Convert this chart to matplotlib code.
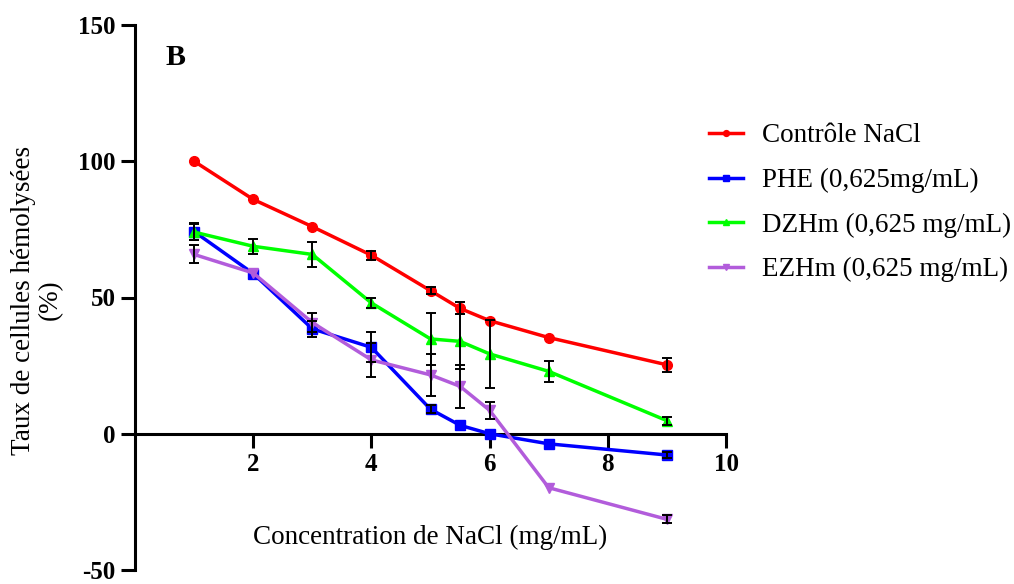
import numpy as np
import matplotlib
matplotlib.use("Agg")
import matplotlib.pyplot as plt

plt.rcParams['font.family'] = ['Liberation Serif', 'DejaVu Serif']
plt.rcParams['axes.unicode_minus'] = False

x = np.array([1, 2, 3, 4, 5, 5.5, 6, 7, 9])

ctrl = np.array([100, 86, 76, 65.5, 52.5, 46, 41.5, 35.3, 25.3])
ctrl_err = np.array([0, 0, 0, 1.7, 1.3, 2.2, 0, 0, 2.5])

phe = np.array([74.2, 58.8, 38.5, 31.7, 9.0, 3.1, 0, -3.7, -7.8])
phe_err = np.array([3.0, 0, 3.0, 5.5, 1.5, 0, 0, 0, 1.0])

dzhm = np.array([74.0, 68.8, 65.8, 48.0, 34.8, 33.9, 29.3, 22.9, 4.8])
dzhm_err = np.array([3.0, 2.8, 4.5, 2.0, 9.4, 10.0, 12.6, 3.8, 1.5])

ezhm = np.array([65.8, 59.0, 40.8, 27.1, 21.6, 17.4, 8.6, -19.8, -31.4])
ezhm_err = np.array([3.3, 0, 3.5, 6.3, 7.7, 8.0, 3.2, 0, 1.5])

labels = ["Contrôle NaCl", "PHE (0,625mg/mL)", "DZHm (0,625 mg/mL)", "EZHm (0,625 mg/mL)"]
colors = ["#FF0000", "#0000FF", "#00FF00", "#B25CDB"]
markers = ["o", "s", "^", "v"]

fig = plt.figure(figsize=(10.14, 5.84), dpi=100)
ax = fig.add_axes([135/1014, 1-570/584, (726-135)/1014, (570-25)/584])

series = [(ctrl, ctrl_err), (phe, phe_err), (dzhm, dzhm_err), (ezhm, ezhm_err)]
for (y, e), lab, c, m in zip(series, labels, colors, markers):
    ax.plot(x, y, color=c, marker=m, markersize=7, lw=2.5, label=lab, zorder=3)
for (y, e) in series:
    msk = e > 0
    ax.errorbar(x[msk], y[msk], yerr=e[msk], fmt='none', ecolor='black',
                elinewidth=1.4, capsize=3.5, capthick=1.4, zorder=4)

ax.set_xlim(0, 10)
ax.set_ylim(-50, 150)
ax.spines['top'].set_visible(False)
ax.spines['right'].set_visible(False)
ax.spines['bottom'].set_position(('data', 0))
ax.spines['left'].set_linewidth(2.2)
ax.spines['bottom'].set_linewidth(2.2)
ax.set_xticks([2, 4, 6, 8, 10])
ax.set_yticks([-50, 0, 50, 100, 150])
ax.tick_params(axis='both', width=2.2, length=10, labelsize=18, pad=4)
for t in ax.get_xticklabels() + ax.get_yticklabels():
    t.set_fontweight('bold')

ax.text(5.0, -38, "Concentration de NaCl (mg/mL)", fontsize=19.5, ha='center', va='center')
ax.text(0.69, 138.2, "B", fontsize=21.5, fontweight='bold', ha='center', va='center')
fig.text(37/1014, 1-300/584, "Taux de cellules hémolysées\n(%)", rotation=90,
         fontsize=19.5, ha='center', va='center', multialignment='center', linespacing=1.1)

leg = fig.legend(loc='upper left', bbox_to_anchor=(685/1014, 1-99/584), frameon=False,
                 fontsize=19.5, handlelength=1.25, labelspacing=0.72, handletextpad=0.7,
                 markerscale=0.6)

fig.savefig("out.png", dpi=100)
